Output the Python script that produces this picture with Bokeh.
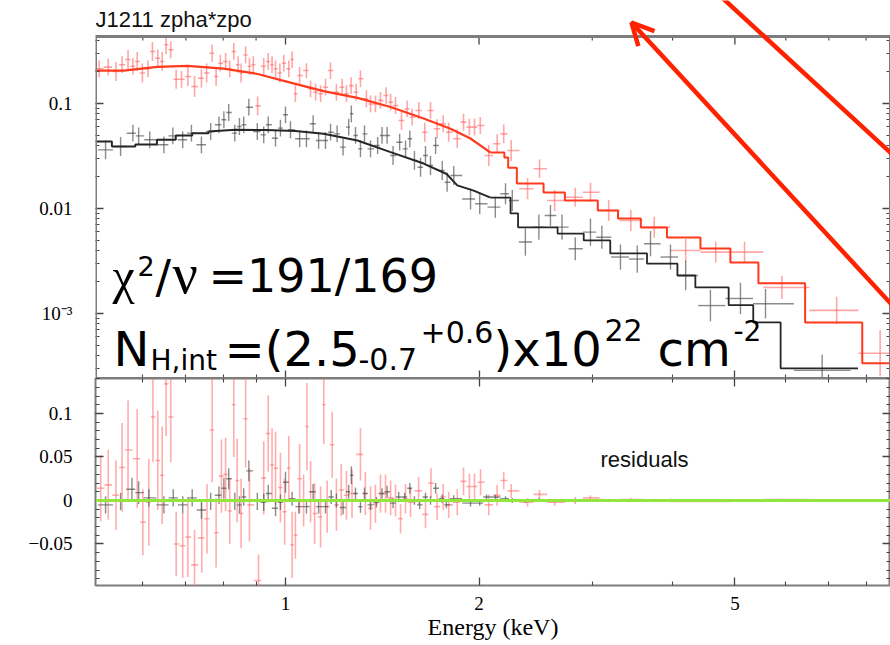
import numpy as np
from bokeh.plotting import figure
from bokeh.models import (Range1d, FixedTicker, LogAxis, LinearAxis, Label, Arrow,
                          OpenHead, Span, CustomJSTickFormatter, BoxAnnotation)
from bokeh.layouts import column
from bokeh.embed import file_html
from bokeh.resources import INLINE

# ---------------- data ----------------
# top panel: folded spectrum, red data set
red_E = [0.513, 0.530, 0.545, 0.557, 0.569, 0.579, 0.588, 0.599, 0.611, 0.621,
         0.633, 0.643, 0.652, 0.663, 0.676, 0.689, 0.705, 0.722, 0.740, 0.754,
         0.769, 0.780, 0.792, 0.807, 0.819, 0.831, 0.844, 0.853, 0.867, 0.879,
         0.891, 0.905, 0.925, 0.940, 0.953, 0.965, 0.980, 0.994, 1.012, 1.024,
         1.036, 1.052, 1.078, 1.094, 1.114, 1.134, 1.154, 1.175, 1.200, 1.225,
         1.244, 1.265, 1.288, 1.308, 1.336, 1.356, 1.380, 1.405, 1.434, 1.457,
         1.483, 1.515, 1.546, 1.574, 1.612, 1.647, 1.681, 1.721, 1.759, 1.794,
         1.850, 1.892, 1.932, 1.968, 2.009, 2.071, 2.134, 2.185, 2.244, 2.380,
         2.484, 2.622, 2.823, 2.981, 3.182, 3.444, 3.746, 4.192, 4.669, 5.176,
         5.917, 7.199, 8.412]
red_F = [0.214, 0.222, 0.202, 0.234, 0.262, 0.226, 0.251, 0.195, 0.214, 0.313,
         0.270, 0.251, 0.362, 0.325, 0.170, 0.170, 0.181, 0.145, 0.174, 0.195,
         0.301, 0.181, 0.242, 0.251, 0.214, 0.313, 0.234, 0.195, 0.290, 0.226,
         0.234, 0.095, 0.226, 0.251, 0.234, 0.214, 0.195, 0.242, 0.214, 0.262,
         0.124, 0.185, 0.206, 0.138, 0.128, 0.124, 0.143, 0.206, 0.128, 0.143,
         0.124, 0.148, 0.128, 0.172, 0.111, 0.099, 0.099, 0.107, 0.119, 0.103,
         0.0957, 0.0689, 0.0890, 0.0740, 0.0858, 0.0533, 0.0858, 0.0574, 0.0641, 0.0533,
         0.0461, 0.0664, 0.0595, 0.0595, 0.0617, 0.0320, 0.0413, 0.0514, 0.0357, 0.0154,
         0.0239, 0.0119, 0.0128, 0.0143, 0.00957, 0.00769, 0.00664, 0.00398, 0.00384, 0.00384,
         0.00177, 0.00107, 0.000418]
red_dex = [0.08, 0.08, 0.09, 0.08, 0.09, 0.08, 0.09, 0.09, 0.08, 0.09,
           0.08, 0.09, 0.09, 0.08, 0.09, 0.08, 0.09, 0.10, 0.09, 0.09,
           0.08, 0.09, 0.08, 0.08, 0.08, 0.08, 0.08, 0.09, 0.08, 0.08,
           0.08, 0.09, 0.08, 0.08, 0.08, 0.08, 0.09, 0.08, 0.08, 0.08,
           0.08, 0.08, 0.07, 0.08, 0.08, 0.08, 0.08, 0.08, 0.08, 0.08,
           0.08, 0.08, 0.08, 0.08, 0.08, 0.08, 0.08, 0.08, 0.08, 0.08,
           0.08, 0.09, 0.08, 0.08, 0.08, 0.09, 0.08, 0.09, 0.08, 0.09,
           0.09, 0.08, 0.08, 0.08, 0.08, 0.10, 0.09, 0.09, 0.10, 0.10,
           0.09, 0.10, 0.09, 0.09, 0.10, 0.10, 0.10, 0.11, 0.10, 0.10,
           0.11, 0.13, 0.22]

# top panel: black data set
black_E = [0.525, 0.554, 0.579, 0.591, 0.615, 0.647, 0.668, 0.692, 0.714, 0.740,
           0.765, 0.788, 0.802, 0.816, 0.834, 0.848, 0.861, 0.877, 0.904, 0.925,
           0.940, 0.965, 0.982, 1.000, 1.018, 1.052, 1.078, 1.104, 1.126, 1.154,
           1.175, 1.203, 1.229, 1.254, 1.266, 1.285, 1.308, 1.327, 1.356, 1.391,
           1.413, 1.439, 1.470, 1.505, 1.537, 1.561, 1.587, 1.622, 1.651, 1.681,
           1.712, 1.753, 1.784, 1.827, 1.940, 2.005, 2.120, 2.199, 2.253, 2.361,
           2.478, 2.583, 2.692, 2.823, 2.981, 3.105, 3.319, 3.525, 3.696, 3.970,
           4.192, 4.581, 5.101, 5.580, 6.835]
black_F = [0.0362, 0.0390, 0.0521, 0.0492, 0.0451, 0.0404, 0.0492, 0.0451, 0.0522, 0.0404,
           0.0541, 0.0627, 0.0700, 0.0821, 0.0522, 0.0604, 0.0627, 0.0922, 0.0541, 0.0503,
           0.0627, 0.0467, 0.0582, 0.0780, 0.0562, 0.0461, 0.0461, 0.0641, 0.0444, 0.0444,
           0.0533, 0.0514, 0.0384, 0.0595, 0.0798, 0.0496, 0.0370, 0.0514, 0.0370, 0.0398,
           0.0496, 0.0496, 0.0320, 0.0428, 0.0370, 0.0461, 0.0287, 0.0247, 0.0320, 0.0257,
           0.0398, 0.0230, 0.0178, 0.0206, 0.0123, 0.0111, 0.0103, 0.0138, 0.0119, 0.00479,
           0.00664, 0.00858, 0.00664, 0.00413, 0.00595, 0.00532, 0.00345, 0.00330, 0.00462, 0.00345,
           0.00230, 0.00119, 0.00139, 0.00124, 0.000287]
black_dex = [0.09, 0.09, 0.08, 0.08, 0.08, 0.08, 0.08, 0.08, 0.08, 0.08,
             0.08, 0.08, 0.08, 0.08, 0.08, 0.08, 0.08, 0.08, 0.08, 0.08,
             0.08, 0.08, 0.08, 0.08, 0.08, 0.08, 0.08, 0.08, 0.08, 0.08,
             0.08, 0.08, 0.08, 0.08, 0.08, 0.08, 0.08, 0.08, 0.08, 0.08,
             0.08, 0.08, 0.09, 0.08, 0.08, 0.08, 0.09, 0.09, 0.09, 0.09,
             0.08, 0.09, 0.09, 0.09, 0.10, 0.10, 0.10, 0.10, 0.10, 0.13,
             0.12, 0.10, 0.12, 0.11, 0.13, 0.11, 0.12, 0.13, 0.12, 0.12,
             0.14, 0.15, 0.15, 0.14, 0.15]

# models (red: smooth part + binned part; black: binned / smooth / binned)
red_model_E = [0.506, 0.560, 0.632, 0.704, 0.801, 0.905, 1.018, 1.146, 1.294, 1.457,
               1.640, 1.806, 1.940, 2.084]
red_model_F = [0.206, 0.206, 0.223, 0.228, 0.215, 0.191, 0.158, 0.131, 0.113, 0.0926,
               0.0720, 0.0574, 0.0464, 0.0341]
red_bin_E = [2.084, 2.19, 2.22, 2.29, 2.52, 2.72, 3.06, 3.29, 3.57, 3.92, 4.42, 4.92,
             5.44, 6.43, 7.89, 8.73]
red_bin_F = [0.0341, 0.0306, 0.0245, 0.0173, 0.0142, 0.0119, 0.00957, 0.00802, 0.00660,
             0.00530, 0.00416, 0.00306, 0.00194, 0.000823, 0.000335, 0.000335]
black_lowbin_E = [0.506, 0.537, 0.584, 0.631, 0.675, 0.716, 0.759]
black_lowbin_F = [0.0435, 0.0390, 0.0407, 0.0452, 0.0496, 0.0522, 0.0541]
black_model_E = [0.759, 0.836, 0.931, 1.036, 1.146, 1.294, 1.457, 1.640, 1.781, 1.850,
                 1.962, 2.084]
black_model_F = [0.0541, 0.0562, 0.0559, 0.0547, 0.0514, 0.0444, 0.0344, 0.0268, 0.0213,
                 0.0166, 0.0148, 0.0127]
black_bin_E = [2.084, 2.239, 2.30, 2.65, 2.91, 3.20, 3.65, 4.07, 4.34, 4.89, 5.34, 5.89, 7.77]
black_bin_F = [0.0127, 0.00897, 0.00662, 0.00577, 0.00496, 0.00373, 0.00298, 0.00230,
               0.00177, 0.00120, 0.000823, 0.000300, 0.000300]

# bottom panel: residuals
red_res_E = [0.516, 0.530, 0.545, 0.557, 0.569, 0.588, 0.600, 0.613, 0.622, 0.633,
             0.643, 0.652, 0.663, 0.676, 0.692, 0.705, 0.722, 0.741, 0.755, 0.769,
             0.780, 0.795, 0.807, 0.819, 0.831, 0.841, 0.853, 0.867, 0.879, 0.908,
             0.925, 0.940, 0.953, 0.965, 0.982, 0.997, 1.012, 1.024, 1.036, 1.052,
             1.067, 1.080, 1.094, 1.110, 1.134, 1.147, 1.161, 1.182, 1.200, 1.221,
             1.244, 1.269, 1.308, 1.331, 1.356, 1.380, 1.405, 1.431, 1.457, 1.483,
             1.510, 1.537, 1.565, 1.611, 1.651, 1.684, 1.721, 1.759, 1.794, 1.850,
             1.892, 1.932, 1.968, 2.011, 2.071, 2.134, 2.185, 2.244, 2.380, 2.484,
             2.622, 2.823, 2.981, 3.182, 3.444, 3.746, 4.192, 4.669, 5.176, 5.917,
             7.199, 8.412]
red_res_R = [0.014, 0.018, 0.006, 0.038, 0.058, 0.048, -0.025, -0.002, 0.096, 0.046,
             0.029, 0.134, 0.096, -0.050, -0.052, -0.042, -0.074, -0.043, -0.021, 0.081,
             -0.037, 0.028, 0.030, -0.012, 0.110, 0.023, -0.015, 0.094, -0.005, -0.092,
             0.026, 0.077, 0.041, 0.037, 0.015, -0.013, 0.037, -0.051, -0.040, 0.025,
             0.000, 0.085, 0.010, -0.015, -0.019, 0.110, -0.007, 0.064, -0.005, 0.012,
             0.006, 0.008, 0.053, 0.008, -0.009, -0.004, 0.008, 0.008, 0.003, 0.000,
             -0.021, 0.002, -0.002, 0.011, -0.016, 0.020, -0.007, 0.004, -0.005, -0.002,
             0.022, 0.016, 0.016, 0.021, -0.005, 0.006, 0.023, 0.011, -0.002, 0.007,
             -0.002, 0.000, 0.003, 0.000, 0.001, 0.000, -0.001, -0.001, 0.000, 0.001,
             0.000, 0.000]
red_res_err = [0.038, 0.040, 0.040, 0.051, 0.057, 0.057, 0.038, 0.050, 0.052, 0.057,
               0.056, 0.060, 0.052, 0.037, 0.037, 0.046, 0.040, 0.040, 0.040, 0.060,
               0.040, 0.042, 0.042, 0.038, 0.060, 0.048, 0.040, 0.056, 0.042, 0.030,
               0.042, 0.044, 0.042, 0.042, 0.040, 0.038, 0.037, 0.038, 0.027, 0.040,
               0.030, 0.050, 0.035, 0.035, 0.035, 0.045, 0.030, 0.038, 0.030, 0.030,
               0.028, 0.028, 0.030, 0.025, 0.025, 0.022, 0.022, 0.022, 0.020, 0.018,
               0.017, 0.017, 0.017, 0.016, 0.016, 0.017, 0.015, 0.015, 0.015, 0.015,
               0.016, 0.015, 0.015, 0.015, 0.012, 0.012, 0.010, 0.008, 0.005, 0.005,
               0.004, 0.004, 0.003, 0.002, 0.002, 0.002, 0.001, 0.001, 0.001, 0.001,
               0.001, 0.001]
black_res_E = [0.525, 0.554, 0.577, 0.591, 0.613, 0.647, 0.669, 0.692, 0.716, 0.740,
               0.765, 0.788, 0.802, 0.816, 0.834, 0.848, 0.861, 0.877, 0.904, 0.925,
               0.940, 0.965, 0.982, 1.000, 1.024, 1.049, 1.078, 1.104, 1.126, 1.154,
               1.178, 1.200, 1.229, 1.254, 1.266, 1.285, 1.308, 1.327, 1.356, 1.385,
               1.413, 1.439, 1.470, 1.500, 1.532, 1.561, 1.587, 1.617, 1.651, 1.681,
               1.712, 1.753, 1.779, 1.827, 1.940, 2.005, 2.055, 2.120, 2.199, 2.253,
               2.361, 2.478, 2.583, 2.823, 3.105, 3.525, 3.970, 4.581, 5.580, 6.835]
black_res_R = [-0.005, -0.001, 0.013, 0.009, 0.003, -0.005, 0.003, -0.005, 0.003, -0.011,
               -0.001, 0.006, 0.014, 0.025, -0.001, -0.005, 0.004, 0.034, -0.001, -0.002,
               0.008, -0.009, -0.002, 0.021, 0.002, -0.007, -0.007, 0.010, -0.007, -0.007,
               0.004, 0.000, -0.008, 0.010, 0.029, 0.008, -0.007, 0.008, -0.005, -0.002,
               0.008, 0.010, -0.003, 0.004, 0.004, 0.014, 0.000, -0.005, 0.004, 0.000,
               0.014, 0.002, -0.005, 0.002, -0.003, -0.003, 0.004, 0.004, 0.002, 0.000,
               -0.001, 0.001, 0.000, 0.000, 0.001, 0.000, 0.001, 0.000, 0.000, 0.000]
black_res_err = [0.010, 0.010, 0.013, 0.013, 0.010, 0.010, 0.010, 0.010, 0.010, 0.010,
                 0.010, 0.010, 0.012, 0.012, 0.010, 0.010, 0.010, 0.012, 0.010, 0.010,
                 0.010, 0.009, 0.009, 0.012, 0.008, 0.008, 0.008, 0.009, 0.008, 0.008,
                 0.008, 0.008, 0.008, 0.008, 0.010, 0.007, 0.007, 0.007, 0.006, 0.006,
                 0.006, 0.007, 0.006, 0.006, 0.005, 0.006, 0.005, 0.005, 0.005, 0.005,
                 0.006, 0.005, 0.004, 0.004, 0.004, 0.003, 0.003, 0.003, 0.003, 0.003,
                 0.002, 0.002, 0.002, 0.002, 0.001, 0.001, 0.001, 0.001, 0.001, 0.001]

# axes: ticks and labels
x_ticks = [1, 2, 5]
x_tick_labels = ["1", "2", "5"]
x_minor = [0.6, 0.7, 0.8, 0.9, 3, 4, 6, 7, 8]
top_y_ticks = [0.001, 0.01, 0.1]
top_y_labels = ["10\u207b\u00b3", "0.01", "0.1"]
top_y_minor = [m * 10.0 ** e for e in (-4, -3, -2, -1) for m in range(2, 10)
               if 2.5e-4 < m * 10.0 ** e < 0.43]
res_y_ticks = [-0.05, 0.0, 0.05, 0.1]
res_y_labels = ["\u22120.05", "0", "0.05", "0.1"]
res_y_minor = [round(0.01 * k, 2) for k in range(-9, 15)]

title_text = "J1211 zpha*zpo"
x_label = "Energy (keV)"

X_RANGE = (0.5064, 8.730)
Y_TOP = (2.404e-4, 0.4345)     # visible spectrum box (bottom, top)
Y_RES = (-0.0977, 0.1402)

# ---------------- styling ----------------
RED_D = "#ff6a6a"
RED_M = "#ff3a1c"
BLK_D = "#4d4d4d"
BLK_M = "#262626"
GREEN = "#92e63e"
ARROW = "#ff2200"
FRAME = "#7d7d7d"
TICK = "#444444"
FW, LB = 795, 95
TOP_B = 36                   # page y of the spectrum box top
TOP_H, RES_H = 342, 207
CANVAS_TOP_H = TOP_B + TOP_H  # top figure frame reaches the page top
Y_TOP_EXT = (Y_TOP[0], Y_TOP[1] * (Y_TOP[1] / Y_TOP[0]) ** (TOP_B / TOP_H))


# annotation placement helpers (reference pixel -> data units)
def top_x(px):
    return X_RANGE[0] * (X_RANGE[1] / X_RANGE[0]) ** ((px - LB) / FW)


def top_y(py):
    return Y_TOP[1] * (Y_TOP[0] / Y_TOP[1]) ** ((py - TOP_B) / TOP_H)


def res_y(py):
    return Y_RES[1] + (Y_RES[0] - Y_RES[1]) * (py - TOP_B - TOP_H) / RES_H


def bin_edges(E):
    E = np.asarray(E, dtype=float)
    mid = np.sqrt(E[:-1] * E[1:])
    lo = np.concatenate([[E[0] ** 2 / mid[0]], mid])
    hi = np.concatenate([mid, [E[-1] ** 2 / mid[-1]]])
    return lo, hi


def mk_axis(cls, ticker, labels=None, standoff=0):
    ax = cls(ticker=ticker)
    ax.axis_line_color = None
    ax.major_tick_in = 8
    ax.major_tick_out = 0
    ax.minor_tick_in = 4
    ax.minor_tick_out = 0
    ax.major_tick_line_color = TICK
    ax.minor_tick_line_color = TICK
    ax.major_tick_line_width = 1.3
    ax.minor_tick_line_width = 1.1
    if labels is None:
        ax.formatter = CustomJSTickFormatter(code="return ''")
        ax.major_label_text_font_size = "0px"
        ax.major_label_standoff = 0
    else:
        ax.major_label_overrides = labels
        ax.major_label_text_font = "Liberation Serif"
        ax.major_label_text_font_size = "19px"
        ax.major_label_text_color = "black"
        ax.major_label_standoff = standoff
    return ax


def text_label(p, txt, font, size, px, base_y, yfun, color="black"):
    # vertical middle of the text box placed 0.35 em above the wanted baseline
    p.add_layout(Label(x=top_x(px), y=yfun(base_y - 0.35 * size), text=txt, text_font=font,
                       text_font_size=f"{size}px", text_color=color,
                       text_baseline="middle", text_align="left"))


xr = Range1d(*X_RANGE)
xtick = FixedTicker(ticks=x_ticks, minor_ticks=x_minor)
xlab = dict(zip([float(t) for t in x_ticks], x_tick_labels))

# ---------------- top panel ----------------
p1 = figure(x_axis_type="log", y_axis_type="log", x_range=xr, y_range=Range1d(*Y_TOP_EXT),
            frame_width=FW, frame_height=CANVAS_TOP_H, min_border_left=LB, min_border_right=0,
            min_border_top=0, min_border_bottom=0, x_axis_location=None,
            y_axis_location=None, title=None, output_backend="svg", toolbar_location=None)
p1.outline_line_color = None
p1.background_fill_color = "white"
p1.border_fill_color = "white"
p1.grid.visible = False

ytick1 = FixedTicker(ticks=top_y_ticks, minor_ticks=top_y_minor)
p1.add_layout(mk_axis(LogAxis, ytick1, dict(zip(top_y_ticks, top_y_labels)), 23), "left")
p1.add_layout(mk_axis(LogAxis, ytick1), "right")
p1.add_layout(mk_axis(LogAxis, xtick), "below")

# spectrum box and its top-edge ticks
p1.add_layout(BoxAnnotation(left=X_RANGE[0], right=X_RANGE[1], bottom=Y_TOP[0], top=Y_TOP[1],
                            fill_alpha=0, line_color=FRAME, line_width=3, line_alpha=1))
top_major = np.array(x_ticks, dtype=float)
top_minor = np.array(x_minor, dtype=float)
p1.segment(top_major, np.full(len(top_major), Y_TOP[1]), top_major,
           np.full(len(top_major), top_y(TOP_B + 8)), line_color=TICK, line_width=1.3)
p1.segment(top_minor, np.full(len(top_minor), Y_TOP[1]), top_minor,
           np.full(len(top_minor), top_y(TOP_B + 4)), line_color=TICK, line_width=1.1)

rE, rF, rd = np.array(red_E), np.array(red_F), np.array(red_dex)
rlo, rhi = bin_edges(rE)
rtop = np.minimum(rF * 10 ** rd, Y_TOP[1])
p1.segment(rlo, rF, rhi, rF, line_color=RED_D, line_alpha=0.6, line_width=1.6)
p1.segment(rE, rF * 10 ** -rd, rE, rtop, line_color=RED_D, line_alpha=0.6, line_width=1.6)

bE, bF, bd = np.array(black_E), np.array(black_F), np.array(black_dex)
blo, bhi = bin_edges(bE)
p1.segment(blo, bF, bhi, bF, line_color=BLK_D, line_alpha=0.65, line_width=1.4)
p1.segment(bE, bF * 10 ** -bd, bE, bF * 10 ** bd, line_color=BLK_D, line_alpha=0.65, line_width=1.4)

p1.line(red_model_E, red_model_F, line_color=RED_M, line_width=2.2)
p1.step(red_bin_E, red_bin_F, mode="after", line_color=RED_M, line_width=2)
p1.step(black_lowbin_E, black_lowbin_F, mode="after", line_color=BLK_M, line_width=2)
p1.line(black_model_E, black_model_F, line_color=BLK_M, line_width=2)
p1.step(black_bin_E, black_bin_F, mode="after", line_color=BLK_M, line_width=1.8)

# title
text_label(p1, title_text, "Liberation Sans", 22, 95, 27, top_y, color="#111111")

# big annotation text (text, font, size px, left x, baseline y)
SANS = "DejaVu Sans"
SERIF = "Liberation Serif"
pieces = [
    ("\u03c7", SERIF, 50, 112, 293),
    ("2", SANS, 27, 137, 275),
    ("/", SANS, 46, 155, 293),
    ("\u03bd", SERIF, 56, 172, 293),
    ("=191/169", SANS, 46, 208, 292),
    ("N", SANS, 48, 113, 365),
    ("H,int", SANS, 28, 150, 370),
    ("=(2.5", SANS, 48, 224, 365),
    ("-0.7", SANS, 30, 358, 369),
    ("+0.6", SANS, 30, 420, 342),
    (")x10", SANS, 48, 493, 365),
    ("22", SANS, 30, 604, 340),
    ("cm", SANS, 48, 657, 365),
    ("-2", SANS, 28, 733, 340),
]
for txt, font, size, px, py in pieces:
    text_label(p1, txt, font, size, px, py, top_y)

# red arrows
p1.add_layout(Arrow(end=OpenHead(size=22, line_color=ARROW, line_width=4.5),
                    x_start=top_x(905), y_start=top_y(319), x_end=top_x(631), y_end=top_y(22),
                    line_color=ARROW, line_width=4.5))
p1.add_layout(Arrow(end=None, x_start=top_x(716), y_start=top_y(-8),
                    x_end=top_x(905), y_end=top_y(166), line_color=ARROW, line_width=4.5))

# ---------------- residual panel ----------------
p2 = figure(x_axis_type="log", x_range=xr, y_range=Range1d(*Y_RES),
            frame_width=FW, frame_height=RES_H, min_border_left=LB, min_border_right=0,
            min_border_top=0, min_border_bottom=60, x_axis_location=None,
            y_axis_location=None, title=None, output_backend="svg", toolbar_location=None)
p2.outline_line_color = FRAME
p2.outline_line_width = 2
p2.background_fill_color = "white"
p2.border_fill_color = "white"
p2.grid.visible = False

ytick2 = FixedTicker(ticks=res_y_ticks, minor_ticks=res_y_minor)
p2.add_layout(mk_axis(LinearAxis, ytick2, dict(zip(res_y_ticks, res_y_labels)), 23), "left")
p2.add_layout(mk_axis(LinearAxis, ytick2), "right")
p2.add_layout(mk_axis(LogAxis, xtick), "above")
xb_ax = mk_axis(LogAxis, xtick, xlab, 11)
xb_ax.axis_label = x_label
xb_ax.axis_label_text_font = "Liberation Serif"
xb_ax.axis_label_text_font_size = "24px"
xb_ax.axis_label_text_font_style = "normal"
xb_ax.axis_label_text_color = "black"
xb_ax.axis_label_standoff = 1
p2.add_layout(xb_ax, "below")

qE, qR, qe = np.array(red_res_E), np.array(red_res_R), np.array(red_res_err)
qlo, qhi = bin_edges(qE)
p2.segment(qlo, qR, qhi, qR, line_color=RED_D, line_alpha=0.55, line_width=1.6)
p2.segment(qE, qR - qe, qE, qR + qe, line_color=RED_D, line_alpha=0.55, line_width=1.6)

kE, kR, ke = np.array(black_res_E), np.array(black_res_R), np.array(black_res_err)
klo, khi = bin_edges(kE)
p2.segment(klo, kR, khi, kR, line_color=BLK_D, line_alpha=0.65, line_width=1.4)
p2.segment(kE, kR - ke, kE, kR + ke, line_color=BLK_D, line_alpha=0.65, line_width=1.4)

p2.add_layout(Span(location=0, dimension="width", line_color=GREEN, line_width=3))
text_label(p2, "residuals", "Liberation Sans", 22, 600, 467, res_y, color="#111111")

layout = column(p1, p2, spacing=0)
open("out.html", "w").write(file_html(layout, INLINE, title=title_text))
